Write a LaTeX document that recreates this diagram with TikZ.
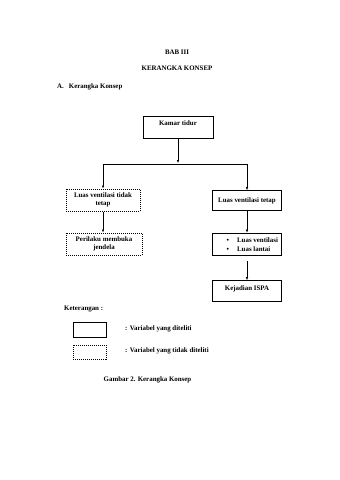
\documentclass[tikz,border=0pt]{standalone}
\usepackage{fontspec}
\setmainfont{Liberation Serif}
\usetikzlibrary{arrows.meta}
\begin{document}
\begin{tikzpicture}[x=1pt,y=-1pt,
  every node/.style={font=\fontsize{6.9}{8}\selectfont\bfseries, inner sep=0pt},
  solidbox/.style={draw, line width=0.7pt, minimum width=#1},
  dotbox/.style={draw, line width=1pt, dash pattern=on 1pt off 1pt, minimum width=#1},
  conn/.style={line width=0.7pt},
  arr/.style={line width=0.7pt, -{Latex[length=3pt,width=2.6pt]}}]
\useasboundingbox (0,0) rectangle (340,480);
\fill[white] (0,0) rectangle (340,480);

\node (bab) at (177,52) {BAB III};
\node (judul) at (177,68) {KERANGKA KONSEP};
\node[anchor=west] (sub) at (57,87) {A.\hspace{5pt}Kerangka Konsep};

% boxes
\node[solidbox=70pt, minimum height=22pt, anchor=north] (kamar) at (178,116) {};
\node at (178,123) {Kamar tidur};

\node[dotbox=74pt, minimum height=22pt] (tidak) at (103,200) {};
\node[align=center] at (103,200) {Luas ventilasi tidak\\tetap};

\node[solidbox=69pt, minimum height=20pt] (tetap) at (247,200.5) {};
\node at (247,200.5) {Luas ventilasi tetap};

\node[dotbox=76pt, minimum height=22pt] (perilaku) at (104,244) {};
\node[align=center] at (104,244) {Perilaku membuka\\jendela};

\node[solidbox=69pt, minimum height=22pt] (luas) at (247,244) {};
\node[anchor=west] at (226.5,240) {\textbullet\hspace{8pt}Luas ventilasi};
\node[anchor=west] at (226.5,249) {\textbullet\hspace{8pt}Luas lantai};

\node[solidbox=69pt, minimum height=21pt] (isp) at (247,291) {};
\node at (247,289) {Kejadian ISPA};

% connectors
\coordinate (hl) at (103,164);
\coordinate (hr) at (247,164);
\coordinate (gap) at (247,261);
\draw[arr] (kamar.south) -- (178,163);
\draw[conn] (hl) -- (hr);
\draw[arr] (hl) -- (tidak.north);
\draw[arr] (hr) -- (tetap.north);
\draw[arr] (tidak.south) -- (tidak.south |- perilaku.north);
\draw[arr] (tetap.south) -- (luas.north);
\draw[arr] (gap) -- (isp.north);

% legend
\node[anchor=west] (ket) at (64,309) {Keterangan :};
\node[solidbox=33pt, minimum height=15pt] (lg1) at (89.5,329.5) {};
\node[anchor=west] (lt1) at (125,329) {: Variabel yang diteliti};
\node[dotbox=33pt, minimum height=14pt] (lg2) at (89.5,352) {};
\node[anchor=west] (lt2) at (125,351) {: Variabel yang tidak diteliti};

\node (cap) at (147.5,380) {Gambar 2. Kerangka Konsep};
\end{tikzpicture}
\end{document}
